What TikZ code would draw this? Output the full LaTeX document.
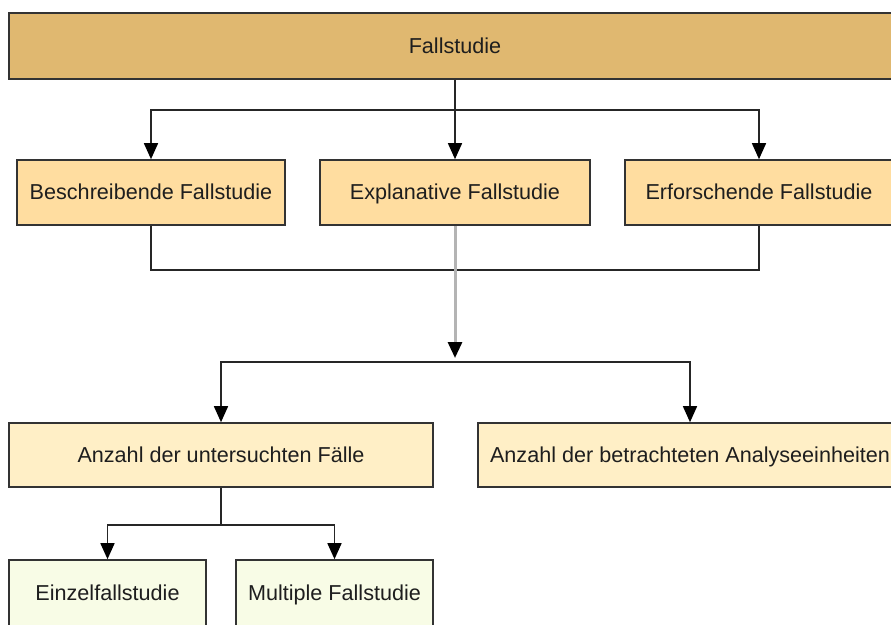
\documentclass[tikz,border=0pt]{standalone}
\usepackage{fontspec}
\setmainfont{Liberation Sans}
\usetikzlibrary{arrows.meta}
\definecolor{topfill}{HTML}{E0B870}
\definecolor{typefill}{HTML}{FFDDA0}
\definecolor{dimfill}{HTML}{FFEFC6}
\definecolor{leaffill}{HTML}{F8FCE6}
\definecolor{boxline}{HTML}{333333}
\definecolor{txt}{HTML}{1E1E1E}
\definecolor{greyline}{HTML}{B4B4B4}
\tikzset{
  box/.style={draw=boxline, line width=1.6pt, rectangle, inner sep=0pt,
    text height=18pt, text depth=4pt,
    text=txt, font=\fontsize{21.6}{25}\selectfont, anchor=center},
  link/.style={draw=black!85, line width=1.5pt},
  tip/.style={-{Triangle[width=14pt,length=16pt,color=black]}},
}
\begin{document}
\begin{tikzpicture}[x=1pt,y=-1pt]
\useasboundingbox (0,0) rectangle (891,624);
\clip (0,0) rectangle (891,624);

% root
\node[box, fill=topfill, minimum width=892pt, minimum height=66pt] (fall) at (455,46) {Fallstudie};

% kinds of case study
\node[box, fill=typefill, minimum width=268pt, minimum height=65pt] (besch) at (151,192.5) {Beschreibende Fallstudie};
\node[box, fill=typefill, minimum width=270pt, minimum height=65pt] (expl) at (455,192.5) {Explanative Fallstudie};
\node[box, fill=typefill, minimum width=268pt, minimum height=65pt] (erf) at (759,192.5) {Erforschende Fallstudie};

% design dimensions
\node[box, fill=dimfill, minimum width=424pt, minimum height=64pt] (anz1) at (221,455) {Anzahl der untersuchten Fälle};
\node[box, fill=dimfill, minimum width=424pt, minimum height=64pt] (anz2) at (690,455) {Anzahl der betrachteten Analyseeinheiten};

% single vs multiple
\node[box, fill=leaffill, minimum width=197pt, minimum height=66pt] (einz) at (107.5,593) {Einzelfallstudie};
\node[box, fill=leaffill, minimum width=197pt, minimum height=66pt] (mult) at (334.5,593) {Multiple Fallstudie};

% junction points
\coordinate (j1) at (455,110);
\coordinate (j2) at (455,270);
\coordinate (j3) at (455,362);
\coordinate (j4) at (221,525);

% root to kinds
\draw[link] (fall.south) -- (j1);
\draw[link, tip] (j1) -| (besch.north);
\draw[link, tip] (j1) -- (expl.north);
\draw[link, tip] (j1) -| (erf.north);

% kinds joined below
\draw[link] (besch.south) |- (j2) -| (erf.south);
\draw[draw=greyline, line width=3pt, tip, shorten >=4pt] (expl.south) -- (j3);

% to design dimensions
\draw[link, tip] (j3) -| (anz1.north);
\draw[link, tip] (j3) -| (anz2.north);

% to single / multiple
\draw[link] (anz1.south) -- (j4);
\draw[link, tip] (j4) -| (einz.north);
\draw[link, tip] (j4) -| (mult.north);
\end{tikzpicture}
\end{document}
